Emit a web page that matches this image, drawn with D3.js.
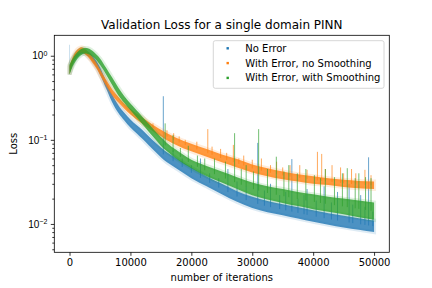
<!DOCTYPE html>
<html>
<head>
<meta charset="utf-8">
<script src="https://cdn.jsdelivr.net/npm/d3@7"></script>
<style>
  body { margin: 0; background: #fff; }
  svg { font-family: "DejaVu Sans", sans-serif; }
</style>
</head>
<body>
<div id="chart"></div>
<script>
const W = 432, H = 288;
const margin = { left: 54.3, right: 432 - 389.3, top: 35.3, bottom: 288 - 252.3 };

const title = "Validation Loss for a single domain PINN";
const xLabel = "number of iterations";
const yLabel = "Loss";
const seriesNames = ["No Error", "With Error, no Smoothing", "With Error, with Smoothing"];
const colors = ["#1f77b4", "#ff7f0e", "#2ca02c"];
const xTicks = [0, 10000, 20000, 30000, 40000, 50000];
const yTicks = [0.01, 0.1, 1];
const yTickExp = ["\u22122", "\u22121", "0"];

// iterations where the band edges were read
const iterations = [0, 500, 1000, 1500, 2000, 2500, 3000, 3500, 4000, 4500, 5000, 6000, 7000, 8000, 9000,
  10000, 11000, 12000, 13000, 14000, 15000, 16000, 17500, 20000, 22500, 25000, 27500, 30000, 32500,
  35000, 37500, 40000, 42500, 45000, 47500, 50000];

// No Error
const noErrorLo = [0.60, 0.78, 0.92, 1.01, 1.06, 1.05, 0.99, 0.91, 0.81, 0.71, 0.60, 0.41, 0.28, 0.21, 0.17,
  0.14, 0.12, 0.102, 0.086, 0.073, 0.062, 0.054, 0.046, 0.035, 0.028, 0.0225, 0.0183, 0.0155, 0.0138,
  0.0127, 0.0116, 0.0106, 0.0098, 0.0091, 0.0085, 0.0080];
const noErrorHi = [0.74, 0.92, 1.06, 1.15, 1.20, 1.19, 1.13, 1.05, 0.95, 0.85, 0.73, 0.50, 0.345, 0.26, 0.21,
  0.175, 0.15, 0.13, 0.11, 0.094, 0.081, 0.071, 0.061, 0.047, 0.037, 0.030, 0.0245, 0.021, 0.0188,
  0.0172, 0.0158, 0.0145, 0.0134, 0.0125, 0.0117, 0.0110];

// With Error, no Smoothing
const noSmoothLo = [0.60, 0.80, 0.96, 1.06, 1.09, 1.05, 0.97, 0.88, 0.78, 0.69, 0.59, 0.44, 0.34, 0.28, 0.235,
  0.20, 0.175, 0.155, 0.137, 0.122, 0.11, 0.099, 0.087, 0.073, 0.063, 0.054, 0.047, 0.041, 0.037,
  0.034, 0.032, 0.030, 0.029, 0.0275, 0.0265, 0.026];
const noSmoothHi = [0.76, 0.96, 1.12, 1.22, 1.26, 1.21, 1.12, 1.02, 0.91, 0.80, 0.69, 0.52, 0.40, 0.325, 0.27,
  0.235, 0.205, 0.183, 0.163, 0.146, 0.132, 0.12, 0.106, 0.09, 0.078, 0.067, 0.059, 0.051, 0.046,
  0.042, 0.039, 0.037, 0.035, 0.0335, 0.0325, 0.032];

// With Error, with Smoothing
const smoothLo = [0.60, 0.74, 0.86, 0.96, 1.03, 1.06, 1.05, 1.01, 0.95, 0.87, 0.78, 0.60, 0.45, 0.34, 0.275,
  0.225, 0.185, 0.152, 0.125, 0.103, 0.085, 0.073, 0.060, 0.046, 0.037, 0.031, 0.026, 0.022, 0.0195,
  0.0178, 0.0163, 0.015, 0.014, 0.013, 0.012, 0.0112];
const smoothHi = [0.78, 0.92, 1.04, 1.14, 1.21, 1.24, 1.23, 1.18, 1.11, 1.02, 0.93, 0.72, 0.55, 0.42, 0.33,
  0.27, 0.225, 0.187, 0.155, 0.128, 0.108, 0.092, 0.076, 0.058, 0.049, 0.042, 0.036, 0.031, 0.028,
  0.026, 0.024, 0.0225, 0.021, 0.020, 0.019, 0.018];

// isolated spikes: [iteration, peak loss]
const noErrorSpikes = [[0, 1.35], [15400, 0.33], [17000, 0.075], [18500, 0.06], [20000, 0.05], [21500, 0.06],
  [23000, 0.04], [24500, 0.035], [26000, 0.045], [27500, 0.032], [29000, 0.028], [30900, 0.092], [32000, 0.025],
  [33000, 0.03], [34500, 0.022], [35500, 0.024], [36500, 0.059], [37500, 0.02], [38500, 0.022], [39000, 0.026],
  [40500, 0.019], [41800, 0.028], [43000, 0.018], [44000, 0.024], [45900, 0.03], [46500, 0.017], [47800, 0.022],
  [48500, 0.016], [49100, 0.062], [49800, 0.014]];
const noSmoothSpikes = [[13700, 0.157], [16000, 0.13], [17100, 0.12], [18000, 0.11], [19000, 0.1], [20900, 0.095],
  [22700, 0.134], [23400, 0.083], [24800, 0.078], [25800, 0.07], [26900, 0.087], [27800, 0.06], [28600, 0.065],
  [30000, 0.058], [31500, 0.06], [33000, 0.05], [34000, 0.055], [35000, 0.047], [36200, 0.05], [37800, 0.05],
  [39000, 0.044], [40700, 0.072], [41400, 0.068], [42000, 0.045], [43100, 0.05], [44500, 0.047], [45000, 0.04],
  [46300, 0.045], [47000, 0.04], [48500, 0.044], [49500, 0.038]];
const smoothSpikes = [[15700, 0.157], [17000, 0.114], [18200, 0.08], [19500, 0.085], [21000, 0.065], [22200, 0.06],
  [23800, 0.06], [25600, 0.055], [27100, 0.12], [28200, 0.045], [29000, 0.05], [30200, 0.042], [31050, 0.134],
  [32500, 0.045], [33950, 0.063], [35200, 0.042], [36000, 0.05], [37400, 0.04], [38800, 0.045], [40200, 0.038],
  [41200, 0.035], [42000, 0.045], [43500, 0.036], [44800, 0.04], [45600, 0.046], [46900, 0.035], [47500, 0.04],
  [48600, 0.036], [49500, 0.035]];

const series = [
  { lo: noErrorLo, hi: noErrorHi, spikes: noErrorSpikes },
  { lo: noSmoothLo, hi: noSmoothHi, spikes: noSmoothSpikes },
  { lo: smoothLo, hi: smoothHi, spikes: smoothSpikes },
];

const svg = d3.select("#chart").append("svg").attr("width", W).attr("height", H);

const x = d3.scaleLinear().domain([-2500, 52500]).range([margin.left, W - margin.right]);
const y = d3.scaleLog().domain([0.0046, 1.75]).range([H - margin.bottom, margin.top]);

svg.append("defs").append("clipPath").attr("id", "clip")
  .append("rect").attr("x", margin.left).attr("y", margin.top)
  .attr("width", W - margin.left - margin.right).attr("height", H - margin.top - margin.bottom);

const plot = svg.append("g").attr("clip-path", "url(#clip)");

const area = d3.area()
  .x((d, i) => x(iterations[i]))
  .y0((d) => y(d[0]))
  .y1((d) => y(d[1]))
  .curve(d3.curveMonotoneX);

// middle of a band at a given iteration, used as the foot of a spike
function bandMid(s, it) {
  const i = Math.min(d3.bisectLeft(iterations, it), iterations.length - 1);
  const j = Math.max(i - 1, 0);
  const t = i === j ? 0 : (it - iterations[j]) / (iterations[i] - iterations[j]);
  const a = Math.log(Math.sqrt(s.lo[j] * s.hi[j])), b = Math.log(Math.sqrt(s.lo[i] * s.hi[i]));
  return Math.exp(a + (b - a) * t);
}

series.forEach((s, k) => {
  const g = plot.append("g");
  const pts = s.lo.map((v, i) => [v, s.hi[i]]);
  g.append("path").datum(pts).attr("d", area)
    .attr("fill", "none").attr("stroke", colors[k]).attr("stroke-opacity", 0.15).attr("stroke-width", 4);
  g.append("path").datum(pts).attr("d", area)
    .attr("fill", colors[k]).attr("fill-opacity", 0.8);
  g.selectAll("line").data(s.spikes).join("line")
    .attr("x1", (d) => x(d[0])).attr("x2", (d) => x(d[0]))
    .attr("y1", (d) => y(d[1])).attr("y2", (d) => y(bandMid(s, d[0])))
    .attr("stroke", colors[k]).attr("stroke-width", 0.9)
    .attr("stroke-opacity", (d) => d[0] === 0 ? 0.25 : 0.75);
});

// axes
const font = "10px";
const xAxis = svg.append("g").attr("transform", `translate(0,${H - margin.bottom})`)
  .call(d3.axisBottom(x).tickValues(xTicks).tickFormat(d3.format("d")).tickSize(3.5).tickPadding(3.5));
xAxis.select(".domain").remove();
xAxis.selectAll("text").attr("font-size", font).attr("fill", "#000").attr("font-family", "DejaVu Sans");

const minorTicks = [];
[0.001, 0.01, 0.1, 1].forEach((p) => {
  for (let m = 2; m <= 9; m++) {
    const v = p * m;
    if (v > 0.0046 && v < 1.75) minorTicks.push(v);
  }
});
const yMinor = svg.append("g").attr("transform", `translate(${margin.left},0)`)
  .call(d3.axisLeft(y).tickValues(minorTicks).tickFormat("").tickSize(2));
yMinor.select(".domain").remove();

const yAxis = svg.append("g").attr("transform", `translate(${margin.left},0)`)
  .call(d3.axisLeft(y).tickValues(yTicks).tickFormat("").tickSize(3.5));
yAxis.select(".domain").remove();
yAxis.selectAll(".tick").each(function (d, i) {
  const t = d3.select(this).append("text")
    .attr("x", -7).attr("dy", "0.32em").attr("fill", "#000")
    .attr("text-anchor", "end").attr("font-size", font);
  t.append("tspan").text("10");
  t.append("tspan").attr("font-size", "7px").attr("dy", "-0.5em").text(yTickExp[i]);
});
svg.selectAll(".tick line").attr("stroke", "#000").attr("stroke-width", 0.8);

// frame
svg.append("rect")
  .attr("x", margin.left).attr("y", margin.top)
  .attr("width", W - margin.left - margin.right).attr("height", H - margin.top - margin.bottom)
  .attr("fill", "none").attr("stroke", "#000").attr("stroke-width", 0.8);

// labels
svg.append("text").attr("x", (margin.left + W - margin.right) / 2).attr("y", 29)
  .attr("text-anchor", "middle").attr("font-size", "12px").text(title);
svg.append("text").attr("x", (margin.left + W - margin.right) / 2).attr("y", 281)
  .attr("text-anchor", "middle").attr("font-size", font).text(xLabel);
svg.append("text").attr("transform", `translate(17,${(margin.top + H - margin.bottom) / 2}) rotate(-90)`)
  .attr("text-anchor", "middle").attr("font-size", font).text(yLabel);

// legend
const lg = svg.append("g");
lg.append("rect").attr("x", 213.3).attr("y", 40.7).attr("width", 170.7).attr("height", 47.6)
  .attr("rx", 2).attr("fill", "#fff").attr("fill-opacity", 0.8).attr("stroke", "#cccccc").attr("stroke-width", 0.8);
seriesNames.forEach((name, k) => {
  const yy = 48.3 + k * 14.8;
  lg.append("rect").attr("x", 226.5).attr("y", yy - 1.2).attr("width", 2.4).attr("height", 2.4).attr("fill", colors[k]);
  lg.append("text").attr("x", 245.3).attr("y", yy).attr("dy", "0.35em").attr("font-size", font).text(name);
});
</script>
</body>
</html>
